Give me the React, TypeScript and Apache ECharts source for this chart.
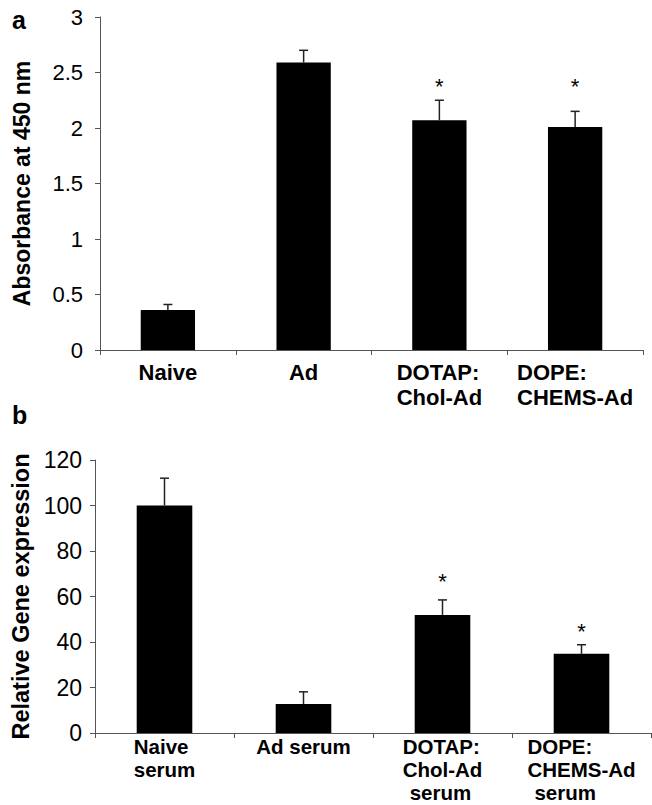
import React, { useEffect, useRef } from 'react';
import * as echarts from 'echarts';

// Panel a
const categoriesA = ['Naive', 'Ad', 'DOTAP:\nChol-Ad', 'DOPE:\nCHEMS-Ad'];
const meansA = [0.36, 2.59, 2.07, 2.01];
const errorsA = [0.05, 0.11, 0.18, 0.14];
const starsA: (number | null)[] = [null, null, 2.42, 2.42];
const yMinA = 0;
const yMaxA = 3;
const yStepA = 0.5;

// Panel b
const categoriesB = ['Naive\nserum', 'Ad serum', 'DOTAP:\nChol-Ad\nserum', 'DOPE:\nCHEMS-Ad\nserum'];
const meansB = [100, 12.7, 51.9, 34.8];
const errorsB = [12, 5.4, 6.6, 4.0];
const starsB: (number | null)[] = [null, null, 68.7, 46.8];
const yMinB = 0;
const yMaxB = 120;
const yStepB = 20;

const FONT = '"Liberation Sans", Arial, Helvetica, sans-serif';
const AXIS_COLOR = '#555';

function catFormatter(value: string) {
  return value
    .split('\n')
    .map((line, i) => (i === 2 ? `{s|${line}}` : `{l|${line}}`))
    .join('\n');
}

function richStyles(size: number, lh: number) {
  const base = {
    fontSize: size,
    fontWeight: 'bold',
    fontFamily: FONT,
    color: '#000',
    align: 'left',
    lineHeight: lh,
  };
  return { l: { ...base }, s: { ...base, padding: [0, 0, 0, 7] } };
}

function errorSeries(idx: number, means: number[], errs: number[]) {
  return {
    type: 'custom',
    xAxisIndex: idx,
    yAxisIndex: idx,
    silent: true,
    z: 10,
    clip: false,
    data: means.map((m, i) => [i, m, m + errs[i]]),
    encode: { x: 0, y: [1, 2] },
    renderItem: (_params: any, api: any) => {
      const base = api.coord([api.value(0), api.value(1)]);
      const top = api.coord([api.value(0), api.value(2)]);
      const cap = 4.5;
      const style = { stroke: '#222', lineWidth: 1.5 };
      return {
        type: 'group',
        children: [
          { type: 'line', shape: { x1: base[0], y1: base[1], x2: top[0], y2: top[1] }, style },
          { type: 'line', shape: { x1: top[0] - cap, y1: top[1], x2: top[0] + cap, y2: top[1] }, style },
        ],
      };
    },
  };
}

function starSeries(idx: number, stars: (number | null)[]) {
  const data: number[][] = [];
  stars.forEach((v, i) => {
    if (v != null) data.push([i, v]);
  });
  return {
    type: 'custom',
    xAxisIndex: idx,
    yAxisIndex: idx,
    silent: true,
    z: 11,
    clip: false,
    data,
    encode: { x: 0, y: 1 },
    renderItem: (_params: any, api: any) => {
      const c = api.coord([api.value(0), api.value(1)]);
      return {
        type: 'text',
        x: c[0],
        y: c[1] + 5,
        style: {
          text: '*',
          fontSize: 22,
          fontFamily: FONT,
          fill: '#000',
          align: 'center',
          verticalAlign: 'middle',
        },
      };
    },
  };
}

export default function App() {
  const ref = useRef<HTMLDivElement>(null);

  useEffect(() => {
    if (!ref.current) return;
    const chart = echarts.init(ref.current, undefined, { renderer: 'svg' });
    const axisLine = { show: true, lineStyle: { color: AXIS_COLOR, width: 1 } };
    const axisTick = { show: true, length: 5, lineStyle: { color: AXIS_COLOR, width: 1 } };

    chart.setOption({
      animation: false,
      backgroundColor: '#fff',
      graphic: [
        {
          type: 'text',
          x: 12,
          y: 19.5,
          style: { text: 'a', fontSize: 25, fontWeight: 'bold', fontFamily: FONT, fill: '#000', align: 'left', verticalAlign: 'middle' },
        },
        {
          type: 'text',
          x: 12,
          y: 414.5,
          style: { text: 'b', fontSize: 25, fontWeight: 'bold', fontFamily: FONT, fill: '#000', align: 'left', verticalAlign: 'middle' },
        },
      ],
      grid: [
        { left: 100, right: 9, top: 17, bottom: 455, containLabel: false, outerBoundsMode: 'none' },
        { left: 95, right: 1, top: 460, bottom: 72, containLabel: false, outerBoundsMode: 'none' },
      ],
      xAxis: [
        {
          type: 'category',
          gridIndex: 0,
          data: categoriesA,
          axisLine,
          axisTick,
          axisLabel: { margin: 10, interval: 0, formatter: catFormatter, rich: richStyles(22, 25) },
        },
        {
          type: 'category',
          gridIndex: 1,
          data: categoriesB,
          axisLine,
          axisTick,
          axisLabel: { margin: 2, interval: 0, formatter: catFormatter, rich: richStyles(20.5, 23) },
        },
      ],
      yAxis: [
        {
          type: 'value',
          gridIndex: 0,
          min: yMinA,
          max: yMaxA,
          interval: yStepA,
          axisLine,
          axisTick,
          splitLine: { show: false },
          axisLabel: { margin: 17, fontSize: 22, fontFamily: FONT, color: '#000' },
          name: 'Absorbance at 450 nm',
          nameLocation: 'middle',
          nameGap: 67,
          nameTextStyle: { fontSize: 23, fontWeight: 'bold', fontFamily: FONT, color: '#000' },
        },
        {
          type: 'value',
          gridIndex: 1,
          min: yMinB,
          max: yMaxB,
          interval: yStepB,
          axisLine,
          axisTick,
          splitLine: { show: false },
          axisLabel: { margin: 13, fontSize: 23, fontFamily: FONT, color: '#000' },
          name: 'Relative Gene expression',
          nameLocation: 'middle',
          nameGap: 62,
          nameTextStyle: { fontSize: 23.5, fontWeight: 'bold', fontFamily: FONT, color: '#000' },
        },
      ],
      series: [
        {
          type: 'bar',
          xAxisIndex: 0,
          yAxisIndex: 0,
          data: meansA,
          barWidth: '40%',
          itemStyle: { color: '#000' },
          silent: true,
        },
        errorSeries(0, meansA, errorsA),
        starSeries(0, starsA),
        {
          type: 'bar',
          xAxisIndex: 1,
          yAxisIndex: 1,
          data: meansB,
          barWidth: '40%',
          itemStyle: { color: '#000' },
          silent: true,
        },
        errorSeries(1, meansB, errorsB),
        starSeries(1, starsB),
      ],
    });

    return () => chart.dispose();
  }, []);

  return (
    <div
      ref={ref}
      style={{ position: 'absolute', left: 0, top: 0, width: 652, height: 805 }}
    />
  );
}
